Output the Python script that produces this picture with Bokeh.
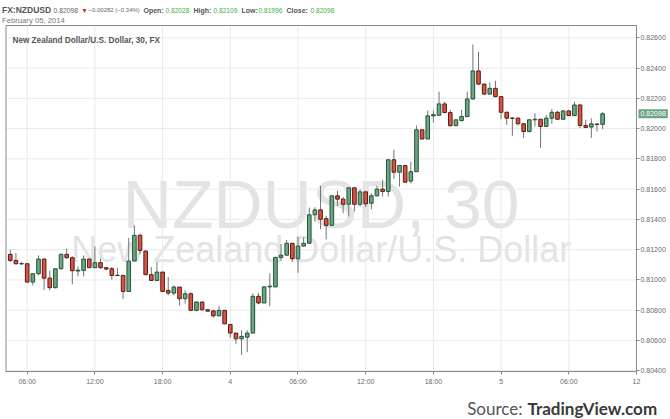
import pandas as pd
from bokeh.plotting import figure
from bokeh.models import Range1d, FixedTicker, Label, ColumnDataSource
from bokeh.embed import file_html
from bokeh.resources import INLINE

# ---------------- data ----------------
first_bar = "2014-02-03 04:30"   # 30-minute bars, FX:NZDUSD
open_ = [0.81169, 0.81129, 0.81106, 0.81107, 0.80986, 0.81041, 0.81138, 0.81012, 0.80949, 0.81074,
         0.81169, 0.81147, 0.81059, 0.81063, 0.81138, 0.81081, 0.81114, 0.81081, 0.81074, 0.81031,
         0.81030, 0.80924, 0.81125, 0.81295, 0.81191, 0.81035, 0.80997, 0.81052, 0.80931, 0.80913,
         0.80953, 0.80876, 0.80909, 0.80799, 0.80854, 0.80803, 0.80796, 0.80763, 0.80799, 0.80706,
         0.80649, 0.80611, 0.80622, 0.80649, 0.80892, 0.80848, 0.80954, 0.80954, 0.81149, 0.81164,
         0.81242, 0.81140, 0.81224, 0.81242, 0.81430, 0.81463, 0.81405, 0.81361, 0.81556, 0.81534,
         0.81500, 0.81609, 0.81500, 0.81582, 0.81507, 0.81556, 0.81600, 0.81585, 0.81794, 0.81712,
         0.81756, 0.81653, 0.81715, 0.81992, 0.81931, 0.82084, 0.82088, 0.82163, 0.82106, 0.82021,
         0.82053, 0.82080, 0.82196, 0.82381, 0.82294, 0.82228, 0.82266, 0.82211, 0.82108, 0.82070,
         0.82069, 0.82032, 0.81981, 0.82058, 0.82062, 0.82014, 0.82069, 0.82108, 0.82062, 0.82117,
         0.82086, 0.82156, 0.82021, 0.82010, 0.82030, 0.82028]
high = [0.81200, 0.81178, 0.81118, 0.81109, 0.81046, 0.81162, 0.81140, 0.81063, 0.81074, 0.81174,
        0.81207, 0.81156, 0.81090, 0.81162, 0.81140, 0.81222, 0.81140, 0.81081, 0.81085, 0.81081,
        0.81030, 0.81278, 0.81360, 0.81307, 0.81195, 0.81085, 0.81118, 0.81052, 0.81019, 0.80964,
        0.80953, 0.80931, 0.80920, 0.80860, 0.80858, 0.80807, 0.80796, 0.80827, 0.80799, 0.80706,
        0.80649, 0.80667, 0.80667, 0.80910, 0.80914, 0.80959, 0.81043, 0.81153, 0.81237, 0.81264,
        0.81242, 0.81286, 0.81281, 0.81478, 0.81481, 0.81622, 0.81423, 0.81556, 0.81589, 0.81547,
        0.81609, 0.81609, 0.81600, 0.81582, 0.81573, 0.81622, 0.81662, 0.81800, 0.81860, 0.81756,
        0.81756, 0.81780, 0.82020, 0.81992, 0.82119, 0.82119, 0.82244, 0.82178, 0.82123, 0.82058,
        0.82123, 0.82244, 0.82556, 0.82506, 0.82298, 0.82305, 0.82316, 0.82215, 0.82113, 0.82070,
        0.82075, 0.82036, 0.82062, 0.82102, 0.82062, 0.82091, 0.82130, 0.82117, 0.82123, 0.82123,
        0.82178, 0.82163, 0.82058, 0.82067, 0.82036, 0.82109]
low = [0.81118, 0.81103, 0.81101, 0.80982, 0.80964, 0.81030, 0.80935, 0.80931, 0.80944, 0.81068,
       0.81140, 0.80971, 0.81024, 0.81024, 0.81079, 0.81079, 0.81074, 0.81063, 0.81001, 0.81026,
       0.80876, 0.80924, 0.81125, 0.81169, 0.81035, 0.80993, 0.80993, 0.80920, 0.80898, 0.80898,
       0.80832, 0.80843, 0.80799, 0.80792, 0.80799, 0.80792, 0.80750, 0.80759, 0.80706, 0.80618,
       0.80578, 0.80505, 0.80523, 0.80649, 0.80839, 0.80848, 0.80826, 0.80954, 0.81127, 0.81158,
       0.81120, 0.81047, 0.81220, 0.81242, 0.81385, 0.81335, 0.81268, 0.81357, 0.81489, 0.81441,
       0.81419, 0.81452, 0.81485, 0.81481, 0.81467, 0.81551, 0.81551, 0.81551, 0.81668, 0.81617,
       0.81646, 0.81638, 0.81715, 0.81931, 0.81931, 0.82040, 0.82084, 0.82102, 0.82014, 0.82014,
       0.82047, 0.82075, 0.82189, 0.82287, 0.82222, 0.82226, 0.82207, 0.82062, 0.82025, 0.81953,
       0.82021, 0.81938, 0.81975, 0.82014, 0.81872, 0.82010, 0.82032, 0.82058, 0.82058, 0.82084,
       0.82084, 0.82003, 0.82003, 0.81938, 0.81981, 0.81996]
close = [0.81129, 0.81107, 0.81108, 0.80986, 0.81041, 0.81138, 0.81012, 0.80949, 0.81074, 0.81169,
         0.81147, 0.81061, 0.81065, 0.81138, 0.81081, 0.81114, 0.81081, 0.81072, 0.81030, 0.81029,
         0.80924, 0.81125, 0.81295, 0.81195, 0.81035, 0.80997, 0.81052, 0.80924, 0.80913, 0.80953,
         0.80876, 0.80909, 0.80799, 0.80854, 0.80803, 0.80794, 0.80763, 0.80799, 0.80710, 0.80649,
         0.80611, 0.80627, 0.80649, 0.80892, 0.80848, 0.80954, 0.80959, 0.81149, 0.81164, 0.81242,
         0.81140, 0.81224, 0.81242, 0.81430, 0.81463, 0.81401, 0.81361, 0.81556, 0.81534, 0.81500,
         0.81609, 0.81500, 0.81582, 0.81503, 0.81556, 0.81600, 0.81585, 0.81794, 0.81712, 0.81756,
         0.81646, 0.81715, 0.81992, 0.81931, 0.82084, 0.82092, 0.82163, 0.82106, 0.82019, 0.82058,
         0.82080, 0.82196, 0.82381, 0.82294, 0.82228, 0.82266, 0.82211, 0.82108, 0.82069, 0.82068,
         0.82032, 0.81981, 0.82058, 0.82062, 0.82014, 0.82069, 0.82108, 0.82062, 0.82117, 0.82086,
         0.82156, 0.82021, 0.82008, 0.82032, 0.82028, 0.82098]

x_ticks = [6, 12, 18, 24, 30, 36, 42, 48, 54, 60]
x_tick_labels = ["06:00", "12:00", "18:00", "4", "06:00", "12:00", "18:00", "5", "06:00", "12"]
y_ticks = [0.804, 0.806, 0.808, 0.810, 0.812, 0.814, 0.816, 0.818, 0.820, 0.822, 0.824, 0.826]
y_tick_labels = ["0.80400", "0.80600", "0.80800", "0.81000", "0.81200", "0.81400",
                 "0.81600", "0.81800", "0.82000", "0.82200", "0.82400", "0.82600"]

symbol = "FX:NZDUSD"
last_price = "0.82098"
change_text = "\u22120.00282 (\u22120.34%)"
ohlc_names = ["Open:", "High:", "Low:", "Close:"]
ohlc_values = ["0.82028", "0.82109", "0.81996", "0.82098"]
date_text = "February 05, 2014"
chart_title = "New Zealand Dollar/U.S. Dollar, 30, FX"
wm_big = "NZDUSD, 30"
wm_small = "New Zealand Dollar/U.S. Dollar"
source_lead = "Source:"
source_name = "TradingView.com"

# ---------------- layout constants ----------------
W, H = 670, 419
X0, X1 = 3.634, 63.015          # hours since 2014-02-03 00:00 across the canvas
Y0, Y1 = 0.80078, 0.828464      # price across the canvas
FL, FR = 4.121, 60.0            # drawn plot box, left/right (hours)
FB, FT = 0.803952, 0.826813     # drawn plot box, bottom/top (price)

UP, DOWN = "#6ba583", "#d75442"
UP_LINE, DOWN_LINE = "#225437", "#5b1a13"
AXIS_C = "#8a8a8a"
GRID_C = "#e9e9e9"

# ---------------- prep ----------------
times = pd.date_range(first_bar, periods=len(open_), freq="30min")
t0 = pd.Timestamp("2014-02-03 00:00")
xs = [(t - t0) / pd.Timedelta(hours=1) for t in times]
is_up = [c >= o for o, c in zip(open_, close)]
src = ColumnDataSource(dict(
    x=xs, open=open_, high=high, low=low, close=close,
    top=[max(o, c) for o, c in zip(open_, close)],
    bottom=[min(o, c) for o, c in zip(open_, close)],
    fill=[UP if u else DOWN for u in is_up],
    line=[UP_LINE if u else DOWN_LINE for u in is_up],
))

p = figure(width=W, height=H, output_backend="svg", toolbar_location=None,
           title=None, y_axis_location="right",
           x_range=Range1d(X0, X1), y_range=Range1d(Y0, Y1),
           min_border_left=0, min_border_right=0, min_border_top=0, min_border_bottom=0)
p.background_fill_color = "white"
p.border_fill_color = "white"
p.outline_line_color = None
p.xgrid.visible = False
p.ygrid.visible = False

xa, ya = p.xaxis[0], p.yaxis[0]
xa.fixed_location = FB
xa.bounds = (FL, FR)
ya.fixed_location = FR
ya.bounds = (FB, FT)
for ax, ticks, labels, standoff in ((xa, x_ticks, x_tick_labels, 4), (ya, y_ticks, y_tick_labels, 1)):
    ax.ticker = FixedTicker(ticks=ticks)
    ax.major_label_overrides = dict(zip(ticks, labels))
    ax.major_label_text_font = "Liberation Sans"
    ax.major_label_text_font_size = "7px"
    ax.major_label_text_color = "#6a6a6a"
    ax.axis_line_color = AXIS_C
    ax.major_tick_line_color = AXIS_C
    ax.major_tick_in = 0
    ax.major_tick_out = 3
    ax.minor_tick_line_color = None
    ax.major_label_standoff = standoff

# watermark
xc = (FL + FR) / 2
p.add_layout(Label(x=xc, y=0.81505, text=wm_big, text_align="center", text_baseline="alphabetic",
                   text_font="Liberation Sans", text_font_size="68px", text_color="#e3e3e3", level="image"))
p.add_layout(Label(x=xc, y=0.812013, text=wm_small, text_align="center", text_baseline="alphabetic",
                   text_font="Liberation Sans", text_font_size="36px", text_color="#e3e3e3", level="image"))

# grid lines inside the drawn plot box
p.segment(x0=x_ticks[:-1], y0=[FB] * (len(x_ticks) - 1), x1=x_ticks[:-1], y1=[FT] * (len(x_ticks) - 1),
          line_color=GRID_C, line_width=1, level="underlay")
p.segment(x0=[FL] * len(y_ticks), y0=y_ticks, x1=[FR] * len(y_ticks), y1=y_ticks,
          line_color=GRID_C, line_width=1, level="underlay")

# plot box
p.quad(left=[FL], right=[FR], bottom=[FB], top=[FT], fill_color=None, line_color=AXIS_C, line_width=1)

# candles
p.segment(x0="x", y0="high", x1="x", y1="low", source=src, line_color="#737375", line_width=1)
p.vbar(x="x", width=0.32, top="top", bottom="bottom", fill_color="fill", line_color="line",
       line_width=1, source=src)


def put(px, py, text, size, color, style="normal", font="Liberation Sans", align="left", **kw):
    """Place a text at canvas pixel (px, py) measured from the top-left corner."""
    p.add_layout(Label(x=X0, y=Y1, x_offset=px, y_offset=-py, text=text, text_align=align,
                       text_baseline="alphabetic", text_font=font, text_font_style=style,
                       text_font_size=size, text_color=color, **kw))


# header line 1
put(1.5, 9.5, symbol, "8.5px", "#555555", "bold")
put(53, 9.5, last_price, "6.8px", "#666666")
put(80.5, 9.5, "\u25bc", "7px", "#c0392b")
put(88, 9.5, change_text, "6.0px", "#666666")
GREEN_TXT = "#44ad44"
name_x = [143, 193, 241, 286]
val_x = [165, 213, 258, 310]
for n, v, nx, vx in zip(ohlc_names, ohlc_values, name_x, val_x):
    put(nx, 9.5, n, "7px", "#555555", "bold")
    put(vx, 9.5, v, "6.6px", GREEN_TXT)
# header line 2
put(1.5, 19.5, date_text, "7.7px", "#777777")

# chart title inside the plot box
put(12, 40, chart_title, "8.2px", "#555555", "bold")

# last price box on the price scale
p.add_layout(Label(x=FR, y=close[-1], x_offset=2, text=last_price, text_baseline="middle",
                   text_font="Liberation Sans", text_font_size="7px", text_color="white",
                   background_fill_color=UP, padding=2))

# source line
put(522, 408, source_lead, "17px", "#555555", font="Lato", align="right")
put(527, 408, source_name, "17px", "#3a3a3a", style="bold", font="Lato")

open("out.html", "w").write(file_html(p, INLINE))
